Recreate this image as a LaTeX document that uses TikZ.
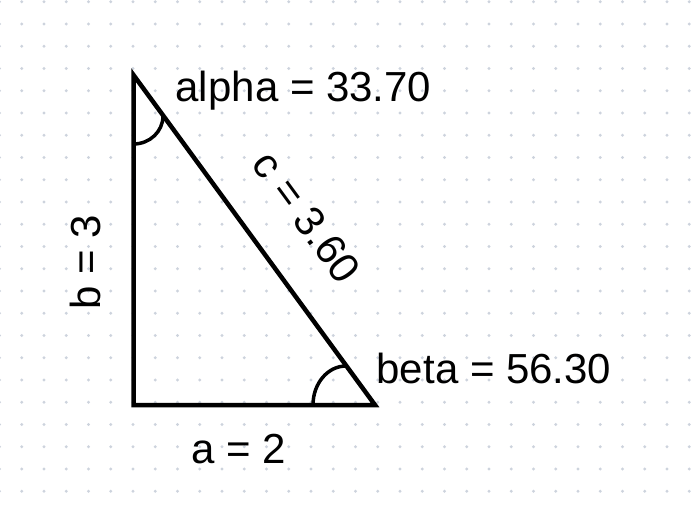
\documentclass[tikz,border=0pt]{standalone}
\usepackage{fontspec}
\setmainfont{Liberation Sans}
\usetikzlibrary{positioning}
\definecolor{gridDot}{HTML}{CDD3DD}
\tikzset{
  tri/side/.style={line width=4.5pt, line join=miter},
  tri/angle/.style={line width=3.5pt},
  tri/label/.style={inner sep=0pt, font=\fontsize{42}{50}\selectfont},
  tri/dot/.style={fill=gridDot}
}

\begin{document}
\begin{tikzpicture}[x=1pt,y=1pt]
\useasboundingbox (0,0) rectangle (694,504);
% dotted paper
\foreach \i in {0,...,31}
  \foreach \j in {0,...,22}
    \fill[tri/dot] ({-0.5+22.25*\i},{502.3-22.25*\j}) circle (1.6);
% corners
\coordinate (A) at (133.5,429);
\coordinate (C) at (133.5,99);
\coordinate (B) at (375,99);
\draw[tri/side] (A) -- (C) -- (B) -- cycle;
% angle marks
\draw[tri/angle] (133.5,360) arc[start angle=270, end angle=360, x radius=29.5, y radius=28];
\draw[tri/angle] (313,99) arc[start angle=180, end angle=90, x radius=33, y radius=39];
% labels
\node[tri/label, anchor=base] (alpha) at (303.5,402) {alpha = 33.70};
\node[tri/label, anchor=base] (beta) at (494,121) {beta = 56.30};
\node[tri/label, anchor=base] (sideA) at (239,41) {a = 2};
\node[tri/label, anchor=base, rotate=90] (sideB) at (100,241.6) {b = 3};
\node[tri/label, rotate=-53.8] (sideC) at (307,287) {c = 3.60};
\end{tikzpicture}
\end{document}
